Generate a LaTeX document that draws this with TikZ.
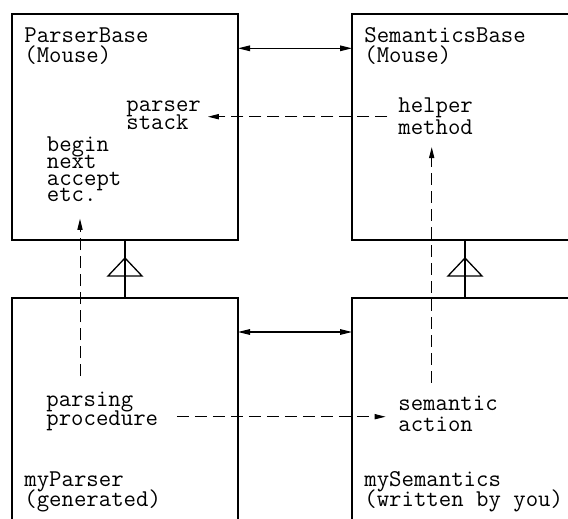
\documentclass[tikz,border=0pt]{standalone}
\usetikzlibrary{arrows.meta}
\newcommand\tightlbl{\lineskiplimit=-16000pt\relax}
\begin{document}
\begin{tikzpicture}[x=0.5pt,y=-0.5pt,
  box/.style={draw, line width=0.65pt, minimum width=113pt, minimum height=113pt, inner sep=0pt, outer sep=0pt, anchor=north west},
  lbl/.style={font={\ttfamily\fontsize{12.05pt}{#1}\selectfont\tightlbl}, align=left, anchor=base west, inner sep=0pt},
  lbl/.default=10pt,
  link/.style={line width=0.6pt, {Triangle[length=6pt,width=2.8pt]}-{Triangle[length=6pt,width=2.8pt]}},
  dep/.style={line width=0.5pt, dash pattern=on 6pt off 3pt, -{Triangle[length=5.5pt,width=2.6pt]}},
  inh/.style={line width=0.65pt},
]
\useasboundingbox (0,0) rectangle (568,519);
\clip (0,0) rectangle (568,519);
% boxes
\node[box] (pb) at (12,14) {};
\node[box] (sb) at (352,14) {};
\node[box] (mp) at (12,298) {};
\node[box] (ms) at (352,298) {};
% labels (anchored at the baseline of the last line)
\node[lbl] (pbt) at (24,62.7) {ParserBase\\(Mouse)};
\node[lbl] (sbt) at (364,62.7) {SemanticsBase\\(Mouse)};
\node[lbl=8.8pt] (ps) at (126,129.3) {parser\\stack};
\node[lbl=11pt] (hm) at (398,134) {helper\\method};
\node[lbl=8.35pt] (bn) at (46.5,201.7) {begin\\next\\accept\\etc.};
\node[lbl=9.15pt] (pp) at (46,425) {parsing\\procedure};
\node[lbl=10.5pt] (sa) at (398,431) {semantic\\action};
\node[lbl] (mpt) at (24,506) {myParser\\(generated)};
\node[lbl] (mst) at (364,506) {mySemantics\\(written by you)};
% helper coordinates
\coordinate (yt) at (0,48.3);
\coordinate (yb) at (0,332);
\coordinate (xl) at (80,0);
\coordinate (xr) at (431.7,0);
\coordinate (yd) at (0,116.7);
\coordinate (ye) at (0,416.7);
% associations
\draw[link] (pb.east |- yt) -- (sb.west |- yt);
\draw[link] (mp.east |- yb) -- (ms.west |- yb);
% inheritance
\draw[inh] (mp.north) -- (pb.south);
\draw[inh] ([yshift=-9pt]pb.south) -- ([xshift=8.5pt,yshift=-18pt]pb.south) -- ([xshift=-8.5pt,yshift=-18pt]pb.south) -- cycle;
\draw[inh] (ms.north) -- (sb.south);
\draw[inh] ([yshift=-9pt]sb.south) -- ([xshift=8.5pt,yshift=-18pt]sb.south) -- ([xshift=-8.5pt,yshift=-18pt]sb.south) -- cycle;
% dependencies
\draw[dep, shorten <=5.3pt, shorten >=3.3pt] (hm.west |- yd) -- (ps.east |- yd);
\draw[dep, shorten <=7.8pt, shorten >=8.3pt] (pp.north -| xl) -- (bn.south -| xl);
\draw[dep, shorten <=6.3pt, shorten >=6.3pt] (sa.north -| xr) -- (hm.south -| xr);
\draw[dep, shorten <=9.2pt, shorten >=6.2pt] (pp.east |- ye) -- (sa.west |- ye);
\end{tikzpicture}
\end{document}
